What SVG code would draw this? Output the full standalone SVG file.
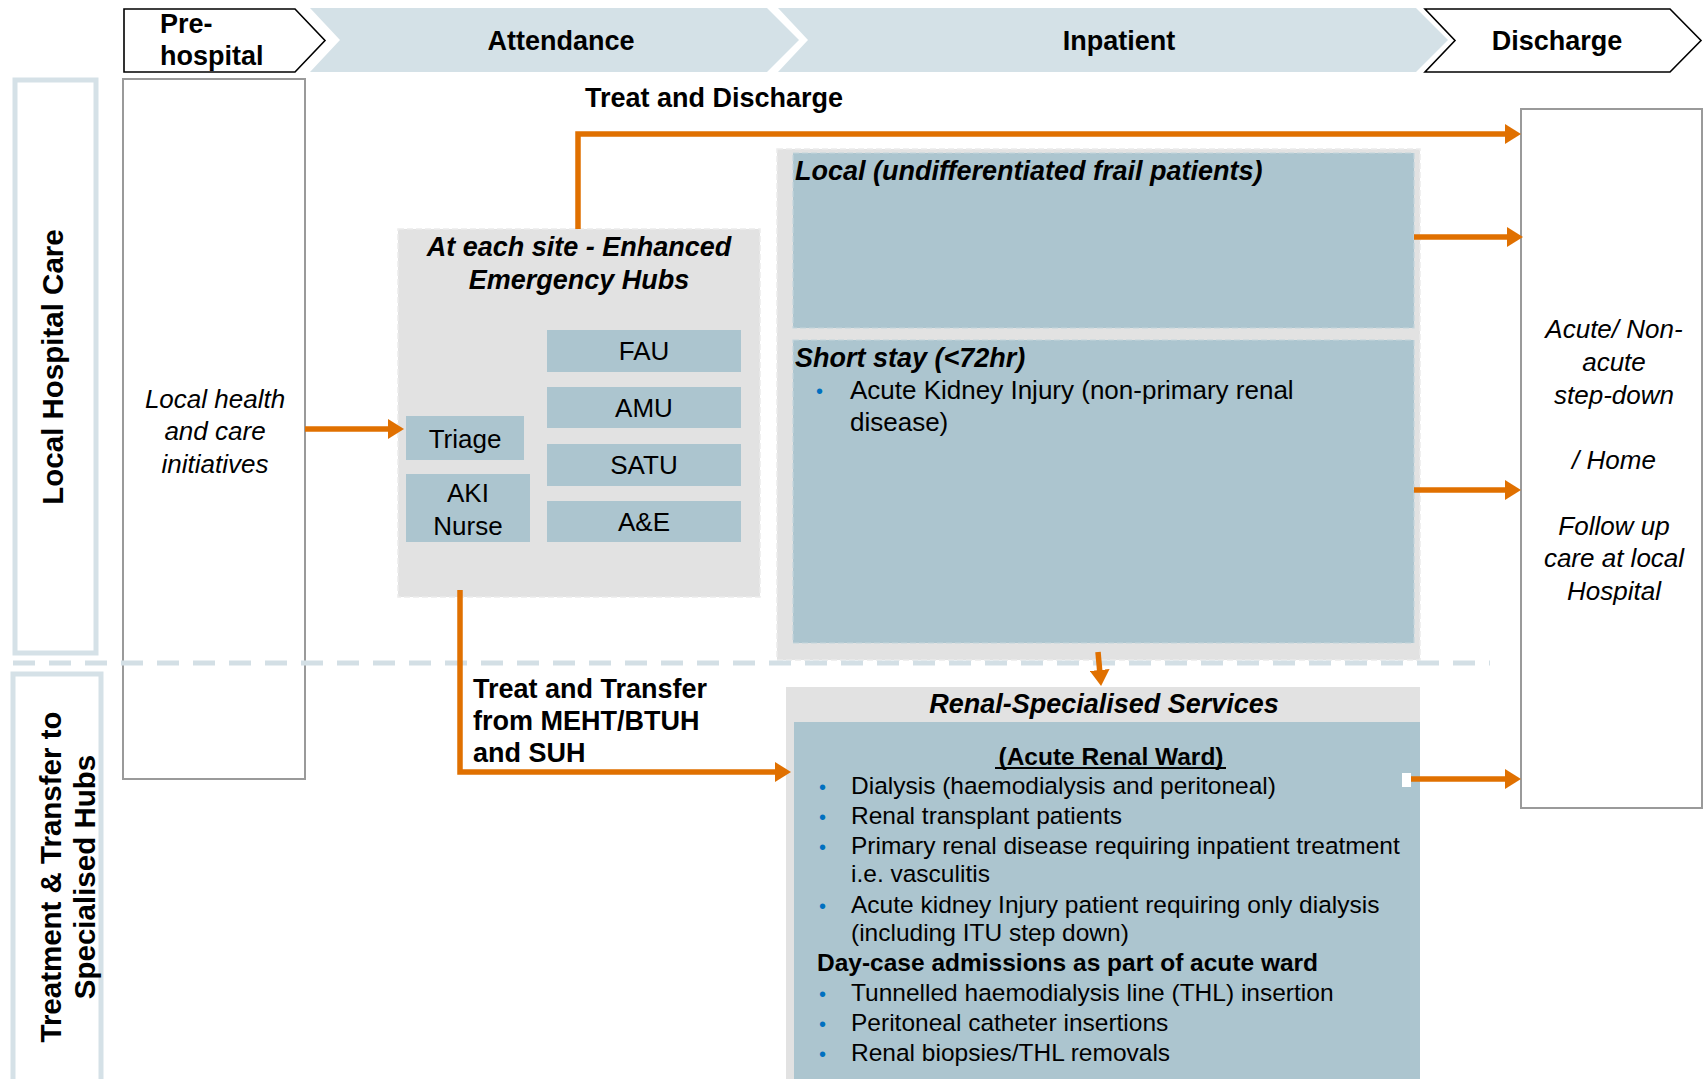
<svg xmlns="http://www.w3.org/2000/svg" width="1704" height="1079" viewBox="0 0 1704 1079">
<defs>
<style>
text{font-family:"Liberation Sans",Arial,Helvetica,sans-serif;fill:#000;}
.b{font-weight:bold;}
.i{font-style:italic;}
.hdr{font-weight:bold;font-size:27px;}
.lane{font-weight:bold;font-size:29.5px;}
.box{font-size:26px;text-anchor:middle;}
.sub{font-size:26px;}
.ren{font-size:24.5px;}
text.bul,.bul text{fill:#0070c0;font-size:20px;}
.chev{fill:#d4e1e7;}
.chevw{fill:#fff;stroke:#000;stroke-width:1.6;}
.lanebox{fill:#fff;stroke:#d5e1e7;stroke-width:5;}
.colbox{fill:#fff;stroke:#9a9a9a;stroke-width:2;}
.gray{fill:#e2e2e2;stroke:#ececec;stroke-width:1.5;stroke-dasharray:6 3;}
.blue{fill:#acc5cf;stroke:#c4d5dc;stroke-width:1.2;stroke-dasharray:6 3;}
.cell{fill:#acc5cf;}
.conn{fill:none;stroke:#e07000;stroke-width:5.5;}
</style>
<marker id="ah" markerUnits="userSpaceOnUse" markerWidth="16" markerHeight="20" refX="4" refY="10" orient="auto">
<path d="M0,0 L16,10 L0,20 Z" fill="#e07000"/>
</marker>
</defs>
<rect width="1704" height="1079" fill="#fff"/>

<g id="header">
<g id="hdr-prehospital">
<path class="chevw" d="M124,9 H295 L325,40.5 L295,72 H124 Z"/>
<text class="hdr" x="160" y="33">Pre-</text>
<text class="hdr" x="160" y="65">hospital</text>
</g>
<g id="hdr-attendance">
<path class="chev" d="M310,8 H767 L799,40 L767,72 H310 L340,40 Z"/>
<text class="hdr" x="561" y="50" text-anchor="middle">Attendance</text>
</g>
<g id="hdr-inpatient">
<path class="chev" d="M778,8 H1416 L1448,40 L1416,72 H778 L808,40 Z"/>
<text class="hdr" x="1119" y="50" text-anchor="middle">Inpatient</text>
</g>
<g id="hdr-discharge">
<path class="chevw" d="M1425,9 H1670 L1701,40.5 L1670,72 H1425 L1455,40.5 Z"/>
<text class="hdr" x="1557" y="50" text-anchor="middle">Discharge</text>
</g>
</g>

<g id="lane-local">
<rect class="lanebox" x="15" y="80" width="81" height="573"/>
<text class="lane" transform="translate(63,367) rotate(-90)" text-anchor="middle">Local Hospital Care</text>
</g>
<g id="lane-specialised">
<rect class="lanebox" x="13" y="674" width="88" height="420"/>
<text class="lane" transform="translate(61,877) rotate(-90)" text-anchor="middle" textLength="331" lengthAdjust="spacing">Treatment &amp; Transfer to</text>
<text class="lane" transform="translate(95,877) rotate(-90)" text-anchor="middle">Specialised Hubs</text>
</g>

<g id="prehospital">
<rect class="colbox" x="123" y="79" width="182" height="700"/>
<text class="sub i" x="215" y="408" text-anchor="middle">Local health</text>
<text class="sub i" x="215" y="440" text-anchor="middle">and care</text>
<text class="sub i" x="215" y="473" text-anchor="middle">initiatives</text>
</g>

<g id="hubs">
<rect class="gray" x="398" y="229" width="362" height="368"/>
<text class="b i" font-size="27" x="579" y="256" text-anchor="middle">At each site - Enhanced</text>
<text class="b i" font-size="27" x="579" y="289" text-anchor="middle">Emergency Hubs</text>
<g id="triage"><rect class="cell" x="406" y="416" width="118" height="44"/><text class="box" x="465" y="448">Triage</text></g>
<g id="aki-nurse"><rect class="cell" x="406" y="474" width="124" height="68"/><text class="box" x="468" y="502">AKI</text><text class="box" x="468" y="535">Nurse</text></g>
<g id="fau"><rect class="cell" x="547" y="330" width="194" height="42"/><text class="box" x="644" y="360">FAU</text></g>
<g id="amu"><rect class="cell" x="547" y="387" width="194" height="41"/><text class="box" x="644" y="417">AMU</text></g>
<g id="satu"><rect class="cell" x="547" y="444" width="194" height="42"/><text class="box" x="644" y="474">SATU</text></g>
<g id="ae"><rect class="cell" x="547" y="501" width="194" height="41"/><text class="box" x="644" y="531">A&amp;E</text></g>
</g>

<g id="inpatient">
<rect class="gray" x="777" y="149" width="643" height="511"/>
<g id="local-frail">
<rect class="blue" x="793" y="153" width="621" height="175"/>
<text class="b i" font-size="27" x="795" y="180">Local (undifferentiated frail patients)</text>
</g>
<g id="short-stay">
<rect class="blue" x="793" y="340" width="621" height="303"/>
<text class="b i" font-size="27" x="795" y="367">Short stay (&lt;72hr)</text>
<text class="bul" x="816" y="398">•</text>
<text class="sub" x="850" y="399">Acute Kidney Injury (non-primary renal</text>
<text class="sub" x="850" y="431">disease)</text>
</g>
</g>

<g id="discharge">
<rect class="colbox" x="1521" y="109" width="181" height="699"/>
<g class="sub i">
<text x="1614" y="338" text-anchor="middle">Acute/ Non-</text>
<text x="1614" y="371" text-anchor="middle">acute</text>
<text x="1614" y="404" text-anchor="middle">step-down</text>
<text x="1614" y="469" text-anchor="middle">/ Home</text>
<text x="1614" y="535" text-anchor="middle">Follow up</text>
<text x="1614" y="567" text-anchor="middle">care at local</text>
<text x="1614" y="600" text-anchor="middle">Hospital</text>
</g>
</g>

<g id="renal">
<rect x="786" y="687" width="634" height="400" fill="#e2e2e2"/>
<rect x="794" y="722" width="626" height="360" fill="#acc5cf"/>
<text class="b i" font-size="27" x="1104" y="713" text-anchor="middle">Renal-Specialised Services</text>
<text class="b" font-size="24.5" x="1111" y="765" text-anchor="middle">(Acute Renal Ward)</text>
<line x1="995" y1="768" x2="1226" y2="768" stroke="#000" stroke-width="2"/>
<g class="bul">
<text x="819" y="794">•</text><text x="819" y="824">•</text><text x="819" y="854">•</text><text x="819" y="913">•</text><text x="819" y="1001">•</text><text x="819" y="1031">•</text><text x="819" y="1061">•</text>
</g>
<g class="ren">
<text x="851" y="794">Dialysis (haemodialysis and peritoneal)</text>
<text x="851" y="824">Renal transplant patients</text>
<text x="851" y="854">Primary renal disease requiring inpatient treatment</text>
<text x="851" y="882">i.e. vasculitis</text>
<text x="851" y="913">Acute kidney Injury patient requiring only dialysis</text>
<text x="851" y="941">(including ITU step down)</text>
<text class="b" x="817" y="971">Day-case admissions as part of acute ward</text>
<text x="851" y="1001">Tunnelled haemodialysis line (THL) insertion</text>
<text x="851" y="1031">Peritoneal catheter insertions</text>
<text x="851" y="1061">Renal biopsies/THL removals</text>
</g>
<rect x="1402" y="773" width="9" height="14" fill="#fff"/>
</g>

<line id="separator" x1="13" y1="663" x2="1490" y2="663" stroke="#d3dfe5" stroke-width="5" stroke-dasharray="22 14"/>

<g id="connectors">
<path class="conn" d="M305,429 H392" marker-end="url(#ah)"/>
<path class="conn" d="M578,229 V134 H1509" marker-end="url(#ah)"/>
<path class="conn" d="M1414,237 H1511" marker-end="url(#ah)"/>
<path class="conn" d="M1414,490 H1509" marker-end="url(#ah)"/>
<path class="conn" d="M1411,779 H1509" marker-end="url(#ah)"/>
<path class="conn" d="M1098,652 L1100,674" marker-end="url(#ah)"/>
<path class="conn" d="M460,590 V772 H779" marker-end="url(#ah)"/>
<text class="hdr" x="585" y="107">Treat and Discharge</text>
<text class="hdr" x="473" y="698">Treat and Transfer</text>
<text class="hdr" x="473" y="730">from MEHT/BTUH</text>
<text class="hdr" x="473" y="762">and SUH</text>
</g>
</svg>
